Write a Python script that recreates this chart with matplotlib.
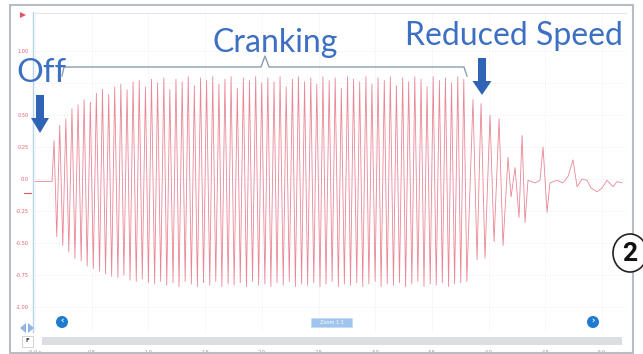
import matplotlib
matplotlib.use("Agg")
import matplotlib.pyplot as plt
from matplotlib.patches import Rectangle, FancyArrow, Circle, Ellipse, Polygon

# signal: alternating peaks (time in s, volts)
sig_t = [0.000, 0.150,
         0.168, 0.192, 0.218, 0.245, 0.272, 0.298, 0.326, 0.352, 0.380, 0.407,
         0.433, 0.460, 0.488, 0.514, 0.541, 0.569, 0.595, 0.622, 0.650, 0.676,
         0.703, 0.731, 0.757, 0.784, 0.812, 0.838, 0.865, 0.893, 0.919, 0.946,
         0.974, 1.000, 1.027, 1.055, 1.081, 1.108, 1.136, 1.162, 1.189, 1.217,
         1.243, 1.270, 1.298, 1.324, 1.351, 1.379, 1.405, 1.432, 1.460, 1.486,
         1.513, 1.541, 1.567, 1.594, 1.622, 1.648, 1.675, 1.703, 1.729, 1.756,
         1.784, 1.810, 1.837, 1.865, 1.891, 1.918, 1.946, 1.972, 1.999, 2.027,
         2.053, 2.080, 2.108, 2.134, 2.161, 2.189, 2.215, 2.242, 2.270, 2.296,
         2.323, 2.351, 2.377, 2.404, 2.432, 2.458, 2.485, 2.513, 2.539, 2.566,
         2.594, 2.620, 2.647, 2.675, 2.701, 2.728, 2.756, 2.782, 2.809, 2.837,
         2.863, 2.890, 2.918, 2.944, 2.971, 2.999, 3.025, 3.052, 3.080, 3.106,
         3.133, 3.161, 3.187, 3.214, 3.242, 3.268, 3.295, 3.323, 3.349, 3.376,
         3.404, 3.430, 3.457, 3.485, 3.511, 3.538, 3.566, 3.592, 3.619, 3.647,
         3.673, 3.700, 3.728, 3.754, 3.781, 3.808,
         3.862, 3.898, 3.933, 3.968, 4.012, 4.048, 4.092, 4.127, 4.171, 4.198,
         4.233, 4.268, 4.295, 4.321, 4.347, 4.409, 4.453, 4.480, 4.515, 4.541,
         4.603, 4.656, 4.700, 4.744, 4.780, 4.824, 4.868, 4.903, 4.956, 5.000,
         5.044, 5.097, 5.132, 5.176]
sig_v = [-0.02, -0.02,
         0.30, -0.45, 0.42, -0.52, 0.47, -0.57, 0.55, -0.62, 0.58, -0.64,
         0.62, -0.68, 0.60, -0.70, 0.67, -0.72, 0.70, -0.74, 0.66, -0.76,
         0.72, -0.77, 0.74, -0.75, 0.70, -0.79, 0.76, -0.80, 0.77, -0.78,
         0.72, -0.81, 0.78, -0.82, 0.75, -0.80, 0.79, -0.83, 0.70, -0.81,
         0.78, -0.84, 0.76, -0.80, 0.80, -0.82, 0.73, -0.84, 0.79, -0.81,
         0.77, -0.83, 0.80, -0.80, 0.74, -0.84, 0.78, -0.82, 0.80, -0.83,
         0.71, -0.81, 0.79, -0.84, 0.77, -0.80, 0.80, -0.83, 0.75, -0.82,
         0.79, -0.84, 0.76, -0.81, 0.80, -0.83, 0.72, -0.80, 0.78, -0.84,
         0.80, -0.82, 0.76, -0.83, 0.79, -0.81, 0.74, -0.84, 0.80, -0.82,
         0.77, -0.80, 0.79, -0.84, 0.71, -0.82, 0.80, -0.83, 0.78, -0.81,
         0.76, -0.84, 0.80, -0.82, 0.74, -0.80, 0.79, -0.84, 0.77, -0.82,
         0.80, -0.83, 0.73, -0.81, 0.79, -0.84, 0.76, -0.82, 0.80, -0.80,
         0.78, -0.84, 0.72, -0.82, 0.80, -0.83, 0.77, -0.81, 0.79, -0.84,
         0.75, -0.82, 0.80, -0.81, 0.78, -0.80,
         0.62, -0.63, 0.59, -0.62, 0.50, -0.49, 0.47, -0.52, 0.17, -0.14,
         0.09, -0.30, 0.34, -0.34, -0.01, -0.03, -0.01, 0.25, -0.26, -0.03,
         -0.01, -0.03, 0.02, 0.15, -0.06, 0.00, -0.01, -0.07, -0.10, -0.07,
         -0.01, -0.06, -0.02, -0.03]

x_ticks = [0.0, 0.5, 1.0, 1.5, 2.0, 2.5, 3.0, 3.5, 4.0, 4.5, 5.0]
x_labels = ["0.0 s", "0.5", "1.0", "1.5", "2.0", "2.5", "3.0", "3.5", "4.0", "4.5", "5.0"]
y_ticks = [1.0, 0.75, 0.5, 0.25, 0.0, -0.25, -0.5, -0.75, -1.0]
# the 0.75 label sits under the "Off" caption in the original, so it is not shown
y_labels = ["1.00", "", "0.50", "0.25", "0.0", "-0.25", "-0.50", "-0.75", "-1.00"]

W, H = 643, 354
blue_txt = "#3d6fc2"
blue_arr = "#2f63b6"

fig = plt.figure(figsize=(W/100, H/100), dpi=100)
fig.patch.set_facecolor("white")

# scope panel
ax = fig.add_axes([33/W, 1 - 332/H, (628 - 33)/W, (332 - 12)/H])
ax.plot(sig_t, sig_v, color="#e8798a", lw=0.6, alpha=0.9, zorder=3)
ax.set_xlim(-0.0176, 5.229)
ax.set_ylim(-1.195, 1.305)
ax.set_xticks(x_ticks)
ax.set_xticklabels(x_labels)
ax.set_yticks(y_ticks)
ax.set_yticklabels(y_labels)
ax.tick_params(axis="x", length=0, pad=13, labelsize=3.6, colors="#8d9299")
ax.tick_params(axis="y", length=0, pad=3, labelsize=3.6, colors="#e0606f")
for s in ["top", "right", "bottom"]:
    ax.spines[s].set_visible(False)
ax.spines["left"].set_color("#b7d4ef")
ax.spines["left"].set_linewidth(1.0)
ax.grid(color="#e8ecf1", lw=0.5, ls=(0, (2, 2)))
ax.set_axisbelow(True)

# overlay in pixel coordinates for the annotations
ov = fig.add_axes([0, 0, 1, 1])
ov.set_xlim(0, W)
ov.set_ylim(H, 0)
ov.axis("off")
ov.patch.set_alpha(0)

ov.add_patch(Rectangle((10, 5), 623, 348, fill=False, ec="#b9bdc3", lw=1.5))
ov.plot([35, 626], [13, 13], color="#e3e6ea", lw=0.8)

# scroll bar and buttons
ov.add_patch(Rectangle((42, 337), 580, 8, fc="#dcdee4", ec="none"))
ov.add_patch(Rectangle((22, 336), 11, 11, fc="white", ec="#c9ccd2", lw=0.6))
ov.text(27, 341, "F", fontsize=4, color="#333333", ha="center", va="center", weight="bold")
ov.add_patch(Polygon([[20, 328], [26, 323], [26, 333]], fc="#8fb6e3", ec="none"))
ov.add_patch(Polygon([[34, 328], [28, 323], [28, 333]], fc="#8fb6e3", ec="none"))
for bx, ch in [(62, "‹"), (593, "›")]:
    ov.add_patch(Circle((bx, 322), 6, fc="#1f7bcf", ec="none"))
    ov.text(bx, 321.5, ch, fontsize=6, color="white", ha="center", va="center", weight="bold")
ov.add_patch(Rectangle((311, 318), 41, 9, fc="#9fc5ee", ec="#c5dcf5", lw=0.6))
ov.text(331.5, 322.6, "Zoom 1:1", fontsize=3.6, color="white", ha="center", va="center")

# trigger / channel markers
ov.add_patch(Polygon([[20, 12], [26, 15], [20, 18]], fc="#e05565", ec="none"))
ov.plot([24, 31], [193, 193], color="#e05565", lw=0.8)

# bracket over the cranking section
ov.plot([62, 64, 261, 265, 269, 464, 467], [76, 67, 67, 56, 67, 67, 76],
        color="#8d9db2", lw=1.0)

ov.text(16, 82, "Off", fontsize=24, color=blue_txt, family="Lato", va="baseline",
        ha="left", zorder=5)
ov.text(213, 52, "Cranking", fontsize=23, color=blue_txt, family="Lato", va="baseline", ha="left")
ov.text(405, 45, "Reduced Speed", fontsize=23, color=blue_txt, family="Lato", va="baseline", ha="left")

ov.add_patch(FancyArrow(40, 95, 0, 38, width=8, head_width=18, head_length=15,
                        length_includes_head=True, fc=blue_arr, ec="none"))
ov.add_patch(FancyArrow(482, 58, 0, 37, width=8, head_width=19, head_length=14,
                        length_includes_head=True, fc=blue_arr, ec="none"))

# figure number badge
ov.add_patch(Ellipse((630, 253), 34, 38, fc="white", ec="#222222", lw=1.2))
ov.text(630, 254, "2", fontsize=19, color="#111111", ha="center", va="center",
        weight="bold", family="Roboto")

fig.savefig("out.png", dpi=100)
